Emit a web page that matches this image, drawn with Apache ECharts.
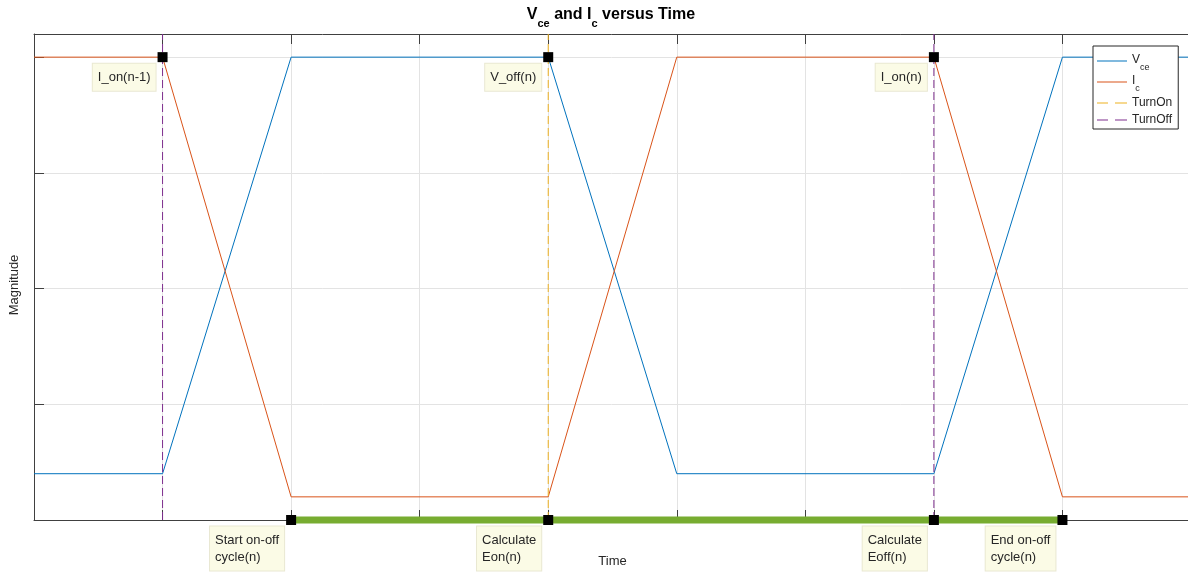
<!DOCTYPE html>
<html><head><meta charset="utf-8">
<script src="https://cdn.jsdelivr.net/npm/echarts@6.0.0/dist/echarts.min.js"></script>
<style>html,body{margin:0;padding:0;background:#fff;}#c{width:1188px;height:572px;}</style>
</head><body><div id="c"></div>
<script>
// ---- data ----
const timePoints = [0, 1, 2, 4, 5, 7, 8, 9];
const vceValues  = [0.08, 0.08, 0.8, 0.8, 0.08, 0.08, 0.8, 0.8];
const icValues   = [0.8, 0.8, 0.04, 0.04, 0.8, 0.8, 0.04, 0.04];
const turnOnTimes  = [4];
const turnOffTimes = [1, 7];
const eventLevel = 0.8;
const topMarkerTimes  = [1, 4, 7];
const topMarkerLabels = ['I_on(n-1)', 'V_off(n)', 'I_on(n)'];
const cycleLevel = 0;
const cycleMarkerTimes  = [2, 4, 7, 8];
const cycleMarkerLabels = ['Start on-off\ncycle(n)', 'Calculate\nEon(n)', 'Calculate\nEoff(n)', 'End on-off\ncycle(n)'];
const xMin = 0, xMax = 9, xInterval = 1;
const yMin = 0, yMax = 0.84, yInterval = 0.2;

// ---- style ----
const FF = '"Liberation Sans", Arial, Helvetica, sans-serif';
const TXT = '#262626';
const AX = '#404040';
const C_BLUE = '#0072BD', C_ORANGE = '#D95319', C_YELLOW = '#EDB120', C_PURPLE = '#7E2F8E', C_GREEN = '#77AC30';
const SYM = 10, PADX = 5, PADY = 5, GAPX = 7, GAPY = 6.5, LH = 17, FS = 13;
const DASH = [8, 4];
const ICON_SOLID = 'path://M0,0H30V1H0Z';
const ICON_DASH = 'path://M0,0H11V1H0Z M18,0H30V1H18Z';

const ctx = document.createElement('canvas').getContext('2d');
ctx.font = FS + 'px "Liberation Sans"';
function boxLabel(text) {
  const w = Math.max.apply(null, text.split('\n').map(s => ctx.measureText(s).width));
  const boxW = w + 2 * PADX;
  return {
    show: true, formatter: text,
    position: [SYM / 2 - GAPX - boxW, SYM / 2 + GAPY],
    align: 'left', verticalAlign: 'top',
    fontFamily: FF, fontSize: FS, lineHeight: LH, color: TXT, opacity: 1,
    backgroundColor: '#fbfbe6', borderColor: '#e9e8d2', borderWidth: 1,
    padding: [PADY, PADX, PADY, PADX]
  };
}
const pairs = (xs, ys) => xs.map((x, i) => [x, ys[i]]);
function vLineSeries(name, t, color, idx) {
  return { name: name, id: name + '_' + idx, type: 'line', data: [[t, yMin], [t, yMax]], symbol: 'none', z: 10, clip: false,
    color: color, lineStyle: { color: color, width: 1, type: DASH, opacity: 1 }, itemStyle: { color: color },
    emphasis: { disabled: true } };
}

const chart = echarts.init(document.getElementById('c'), null, { renderer: 'canvas' });
chart.setOption({
  animation: false,
  backgroundColor: '#fff',
  graphic: [{
    type: 'text', x: 611, y: 6.5, z: 10,
    style: {
      text: '{b|V}{s|ce}{b| and I}{s|c}{b| versus Time}',
      align: 'center', verticalAlign: 'top',
      rich: {
        b: { fontFamily: FF, fontSize: 16, fontWeight: 'bold', fill: '#000', lineHeight: 19, verticalAlign: 'top' },
        s: { fontFamily: FF, fontSize: 11, fontWeight: 'bold', fill: '#000', lineHeight: 11, padding: [12, 0, 0, 0], verticalAlign: 'top' }
      }
    }
  }],
  legend: {
    data: [
      { name: 'Vce', icon: ICON_SOLID }, { name: 'Ic', icon: ICON_SOLID },
      { name: 'TurnOn', icon: ICON_DASH }, { name: 'TurnOff', icon: ICON_DASH }
    ],
    orient: 'vertical', left: 1093, top: 46,
    itemWidth: 30, itemHeight: 1, itemGap: 3,
    padding: [8, 6, 2, 4],
    borderColor: TXT, borderWidth: 1, backgroundColor: '#fff',
    selectedMode: false,
    formatter: n => n === 'Vce' ? '{m|V}{s|ce}' : (n === 'Ic' ? '{m|I}{s|c}' : n),
    textStyle: {
      fontFamily: FF, fontSize: 12, color: TXT, lineHeight: 14,
      rich: {
        m: { fontFamily: FF, fontSize: 12, color: TXT, lineHeight: 14, verticalAlign: 'top' },
        s: { fontFamily: FF, fontSize: 9, color: TXT, lineHeight: 9, padding: [9, 0, 0, 0], verticalAlign: 'top' }
      }
    }
  },
  grid: { left: 34, right: -3, top: 34, bottom: 52, containLabel: false, outerBoundsMode: 'none' },
  xAxis: [{
    type: 'value', min: xMin, max: xMax, interval: xInterval, position: 'bottom',
    name: 'Time', nameLocation: 'middle', nameGap: 35,
    nameTextStyle: { fontFamily: FF, fontSize: 13, color: TXT },
    axisLine: { show: true, onZero: false, lineStyle: { color: AX, width: 1 } },
    axisTick: { show: true, inside: true, length: 10, lineStyle: { color: AX } },
    axisLabel: { show: false },
    splitLine: { show: true, lineStyle: { color: '#e3e3e3', width: 1 } }
  }, {
    type: 'value', min: xMin, max: xMax, interval: xInterval, position: 'top',
    axisLine: { show: true, onZero: false, lineStyle: { color: AX, width: 1 } },
    axisTick: { show: true, inside: true, length: 10, lineStyle: { color: AX } },
    axisLabel: { show: false }, splitLine: { show: false }
  }],
  yAxis: [{
    type: 'value', min: yMin, max: yMax, interval: yInterval,
    name: 'Magnitude', nameLocation: 'middle', nameGap: 13,
    nameTextStyle: { fontFamily: FF, fontSize: 13, color: TXT, padding: [0, 16, 0, 0] },
    axisLine: { show: true, onZero: false, lineStyle: { color: AX, width: 1 } },
    axisTick: { show: true, inside: true, length: 10, lineStyle: { color: AX } },
    axisLabel: { show: false },
    splitLine: { show: true, lineStyle: { color: '#e3e3e3', width: 1 } }
  }],
  series: [
    { name: 'Vce', type: 'line', data: pairs(timePoints, vceValues), symbol: 'none', z: 3,
      lineStyle: { color: C_BLUE, width: 1 }, itemStyle: { color: C_BLUE } },
    { name: 'Ic', type: 'line', data: pairs(timePoints, icValues), symbol: 'none', z: 3,
      lineStyle: { color: C_ORANGE, width: 1 }, itemStyle: { color: C_ORANGE } }
  ].concat(
    turnOnTimes.map((t, i) => vLineSeries('TurnOn', t, C_YELLOW, i)),
    turnOffTimes.map((t, i) => vLineSeries('TurnOff', t, C_PURPLE, i)),
    [
      { name: 'cycle', type: 'line', data: cycleMarkerTimes.map(t => [t, cycleLevel]), symbol: 'none', z: 11, clip: false,
        lineStyle: { color: C_GREEN, width: 7 } },
      { name: 'events', type: 'scatter', symbol: 'rect', symbolSize: SYM, z: 12, clip: false,
        itemStyle: { color: '#000', opacity: 1 },
        data: topMarkerTimes.map((t, i) => ({ value: [t, eventLevel], label: boxLabel(topMarkerLabels[i]) }))
          .concat(cycleMarkerTimes.map((t, i) => ({ value: [t, cycleLevel], label: boxLabel(cycleMarkerLabels[i]) }))) }
    ])
});
</script></body></html>
